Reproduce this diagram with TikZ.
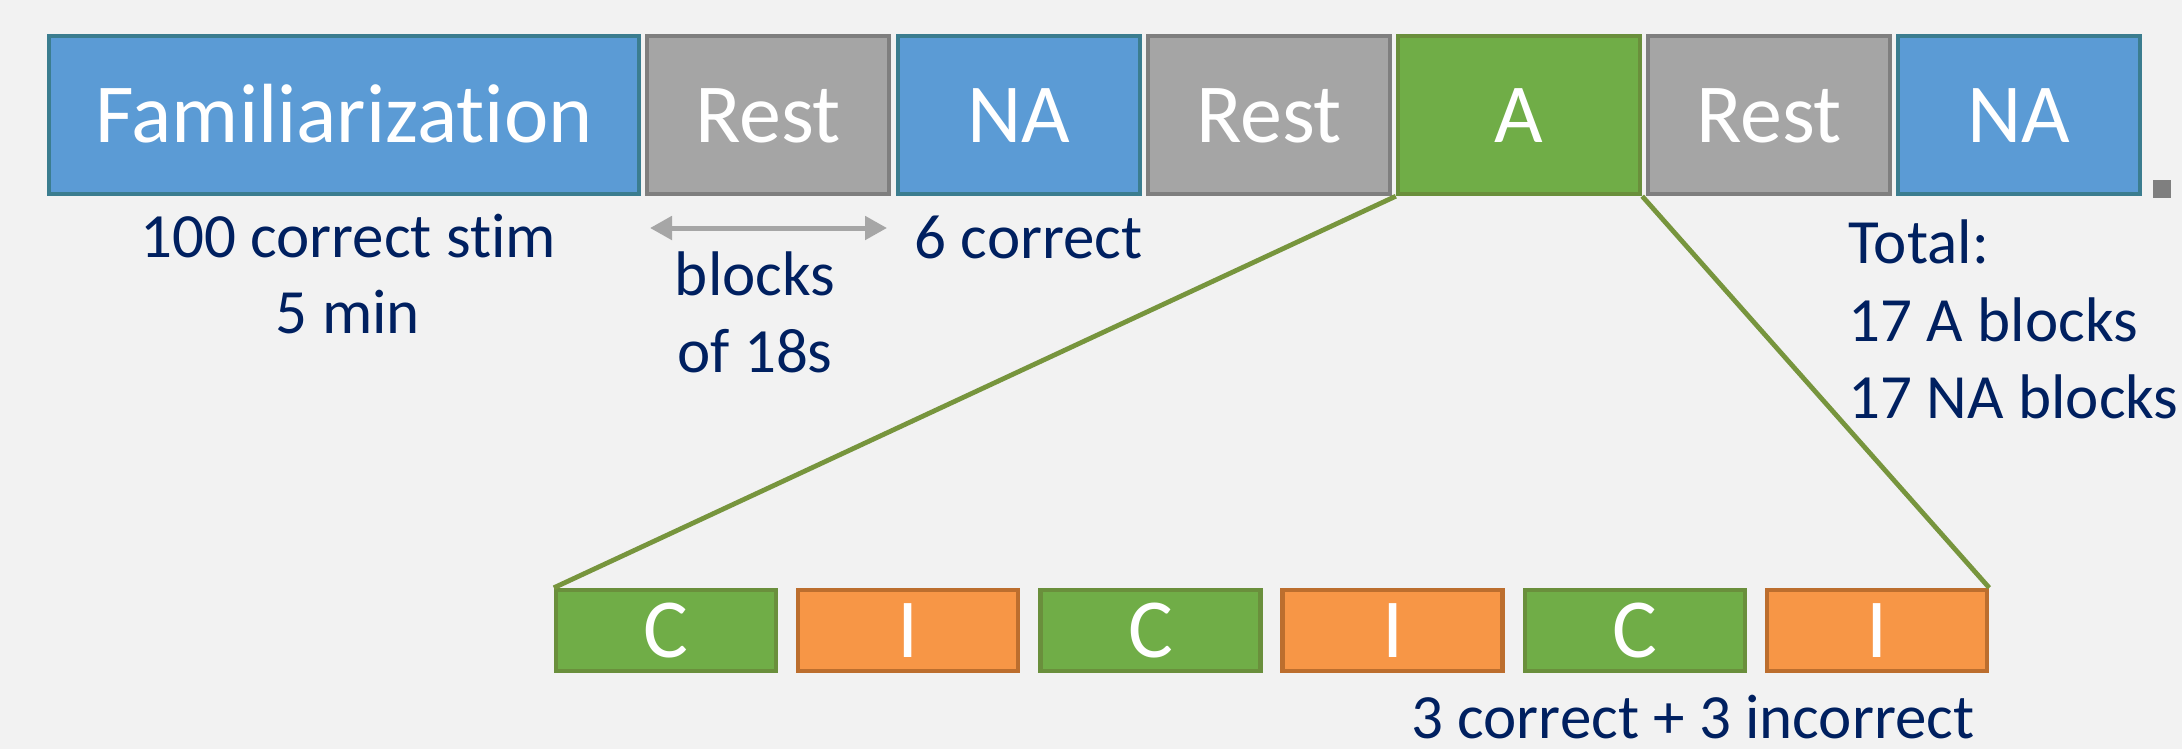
\documentclass[tikz,border=0pt]{standalone}
\usepackage{fontspec}
\setmainfont{Carlito}[Ligatures={NoCommon}]
\usetikzlibrary{arrows.meta}
\definecolor{bg}{HTML}{F2F2F2}
\definecolor{bluefill}{HTML}{5B9BD5}
\definecolor{blueline}{HTML}{3B7D8F}
\definecolor{grayfill}{HTML}{A5A5A5}
\definecolor{grayline}{HTML}{7F7F7F}
\definecolor{greenfill}{HTML}{70AD47}
\definecolor{greenline}{HTML}{6A8F3C}
\definecolor{orangefill}{HTML}{F79646}
\definecolor{orangeline}{HTML}{BC6E2E}
\definecolor{navy}{HTML}{002060}
\definecolor{conncol}{HTML}{77953D}
\definecolor{arrowgray}{HTML}{A6A6A6}
\begin{document}
\begin{tikzpicture}[x=0.25pt,y=-0.25pt,
  blk/.style={draw, line width=1.1pt, text=white, font=\fontsize{21}{25}\selectfont,
    text height=13.5pt, text depth=0pt, inner sep=0pt, minimum height=39.5pt, minimum width=60.5pt},
  lowblk/.style={blk, minimum height=20.25pt, minimum width=55pt},
  bluebox/.style={blk, fill=bluefill, draw=blueline},
  graybox/.style={blk, fill=grayfill, draw=grayline},
  greenbox/.style={blk, fill=greenfill, draw=greenline},
  cbox/.style={lowblk, fill=greenfill, draw=greenline},
  ibox/.style={lowblk, fill=orangefill, draw=orangeline},
  anno/.style={text=navy, font=\fontsize{15.75}{19}\selectfont, inner sep=0pt, anchor=base},
  annol/.style={anno, anchor=base west},
  conn/.style={draw=conncol, line width=1.2pt},
  span/.style={draw=arrowgray, line width=1.25pt, {Triangle[length=5.5pt,width=5.75pt]}-{Triangle[length=5.5pt,width=5.75pt]}}
]
\fill[bg] (0,0) rectangle (2182,749);
\useasboundingbox (0,0) rectangle (2182,749);

% top row
\node[bluebox, minimum width=147.5pt] (fam) at (344,115) {Familiarization};
\node[graybox] (rest1) at (768,115) {Rest};
\node[bluebox] (na1) at (1019,115) {NA};
\node[graybox] (rest2) at (1269,115) {Rest};
\node[greenbox] (a) at (1519,115) {A};
\node[graybox] (rest3) at (1769,115) {Rest};
\node[bluebox] (na2) at (2019,115) {NA};
\node[fill=grayline, minimum size=4.5pt, inner sep=0pt] (dot) at (2162,189) {};

% lower row
\node[cbox] (c1) at (666,630.5) {C};
\node[ibox] (i1) at (908.2,630.5) {I};
\node[cbox] (c2) at (1150.4,630.5) {C};
\node[ibox] (i2) at (1392.6,630.5) {I};
\node[cbox] (c3) at (1634.8,630.5) {C};
\node[ibox] (i3) at (1877,630.5) {I};

% zoom connectors
\draw[conn] (a.south west) -- (c1.north west);
\draw[conn] (a.south east) -- (i3.north east);

% annotations
\node[anno] (famt1) at (348,257) {100 correct stim};
\node[anno] (famt2) at (348,333) {5 min};
\coordinate (arrL) at (650,228);
\coordinate (arrR) at (887,228);
\draw[span] (arrL) -- (arrR);
\node[anno] (blk1) at (755,295) {blocks};
\node[anno] (blk2) at (755,372) {of 18s};
\node[annol] (six) at (914,258) {6 correct};
\node[annol] (tot1) at (1848,263) {Total:};
\node[annol] (tot2) at (1848,341) {17 A blocks};
\node[annol] (tot3) at (1848,418) {17 NA blocks};
\node[anno, anchor=base east, text depth=0pt] (mix) at (1975,738) {3 correct + 3 incorrect};
\end{tikzpicture}
\end{document}
